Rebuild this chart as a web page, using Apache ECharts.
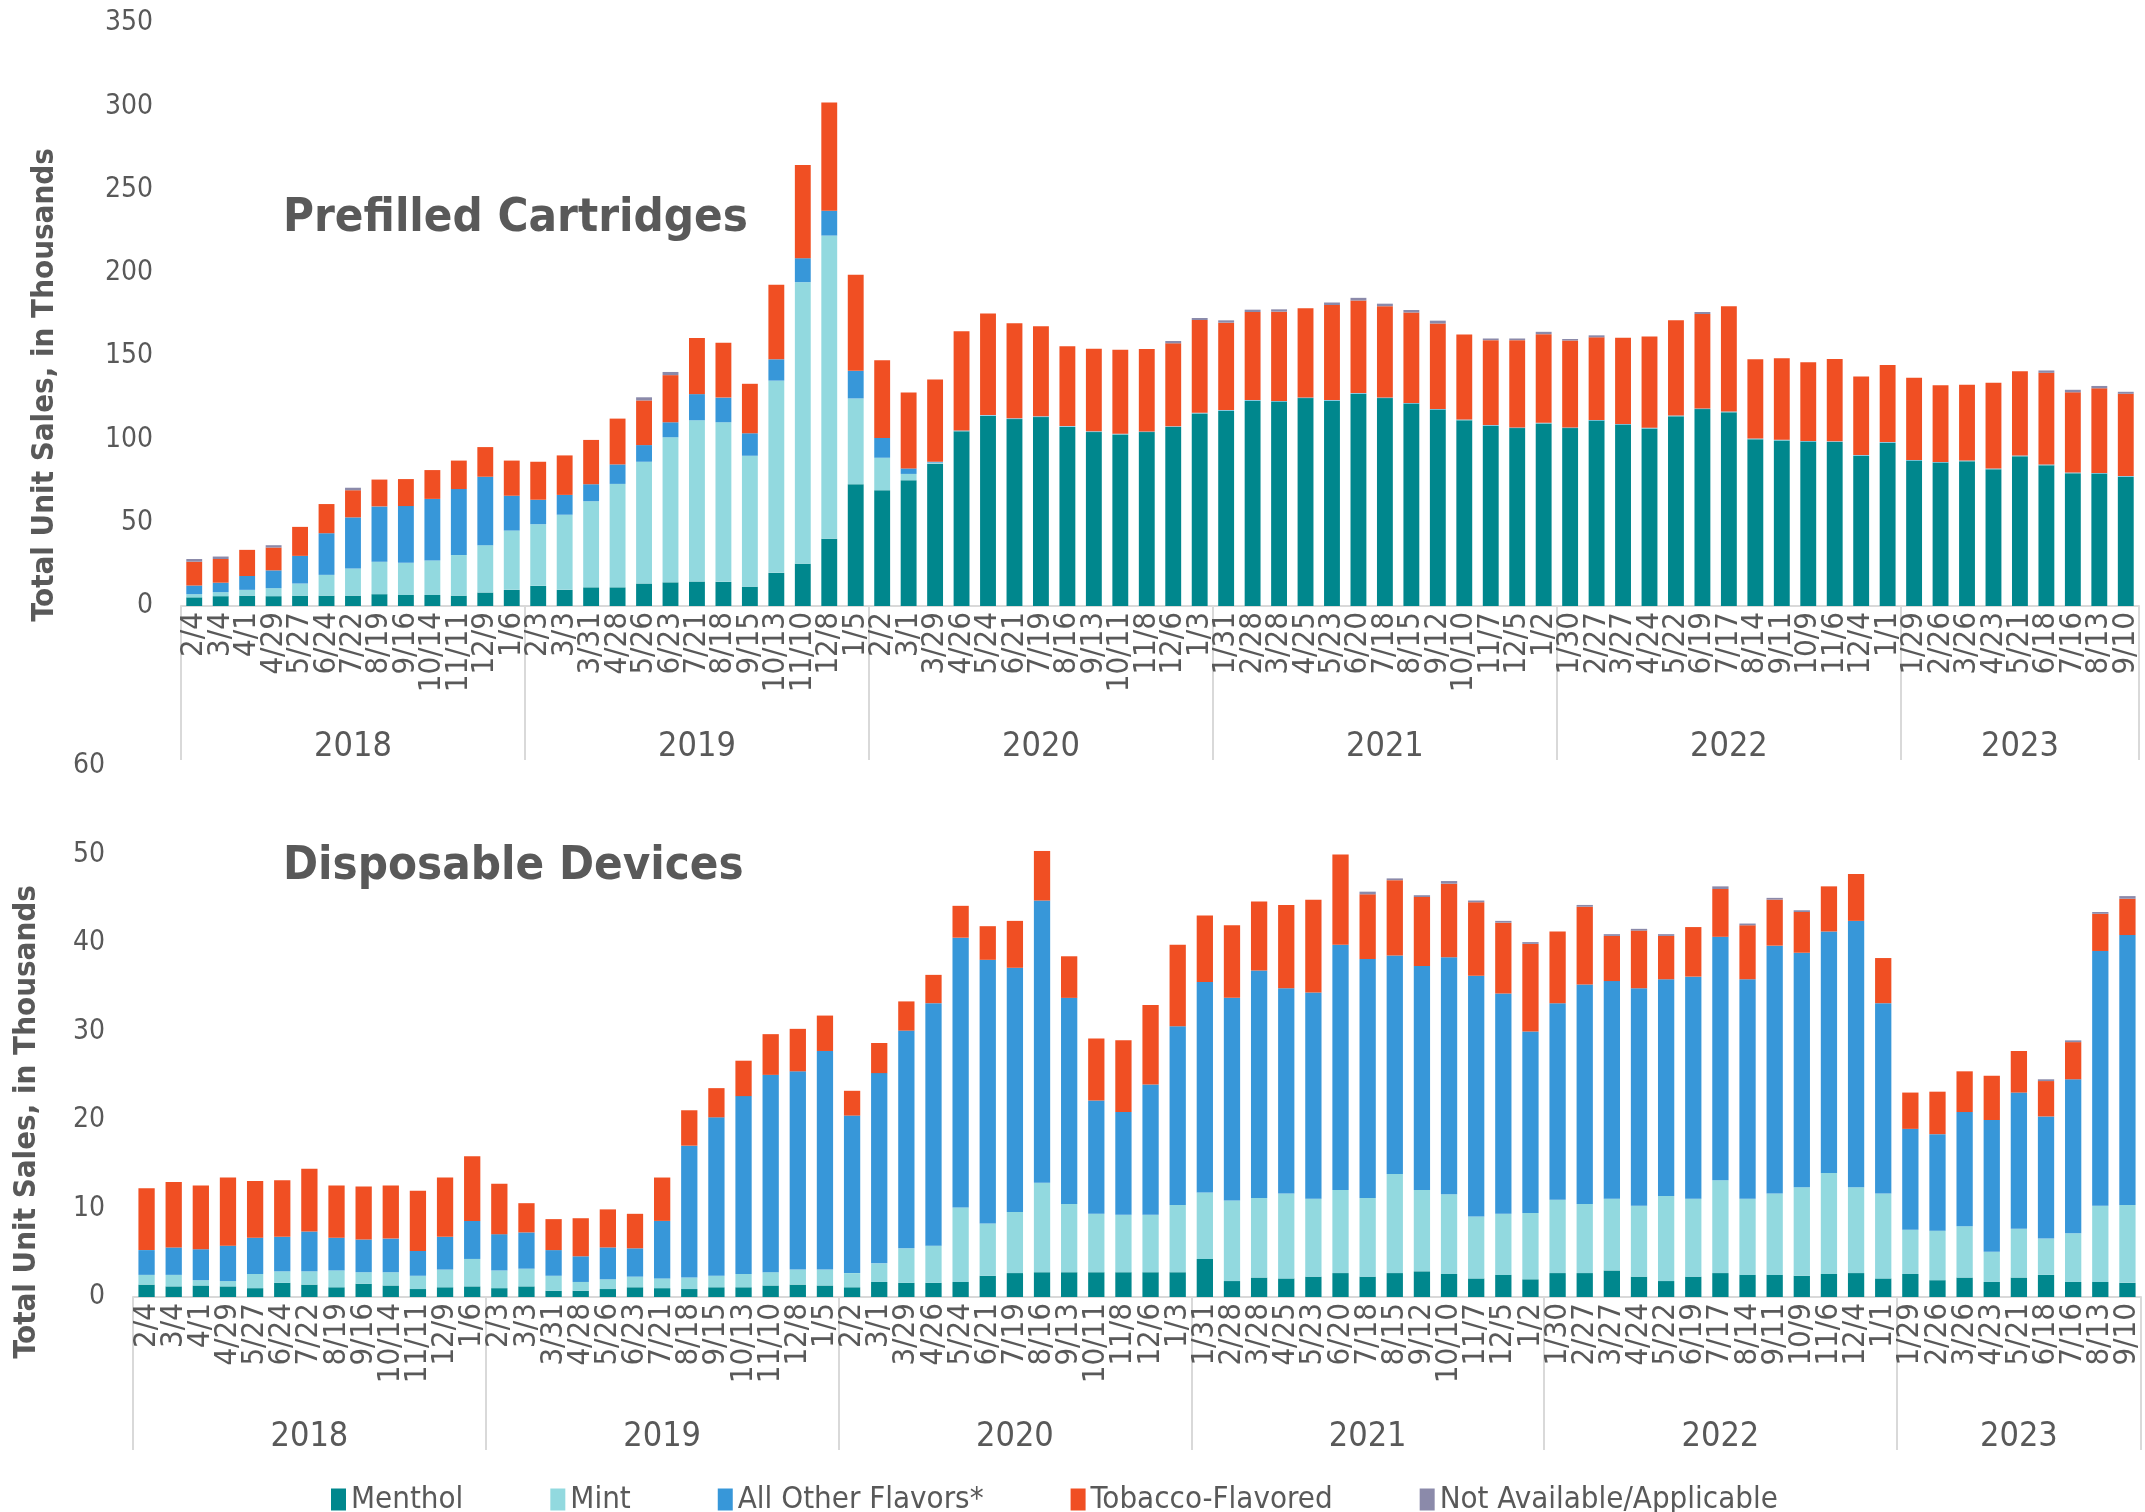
<!DOCTYPE html>
<html>
<head>
<meta charset="utf-8">
<title>Unit sales by flavor</title>
<script src="https://cdn.jsdelivr.net/npm/echarts@6/dist/echarts.min.js"></script>
<style>
  html, body { margin: 0; padding: 0; background: #fff; }
  #chart { width: 2145px; height: 1512px; }
</style>
</head>
<body>
<div id="chart"></div>
<script>
// 4-week periods (end dates), grouped by year
const periods = [
  '2/4', '3/4', '4/1', '4/29', '5/27', '6/24', '7/22', '8/19', '9/16', '10/14', '11/11', '12/9', '1/6',
  '2/3', '3/3', '3/31', '4/28', '5/26', '6/23', '7/21', '8/18', '9/15', '10/13', '11/10', '12/8', '1/5',
  '2/2', '3/1', '3/29', '4/26', '5/24', '6/21', '7/19', '8/16', '9/13', '10/11', '11/8', '12/6', '1/3',
  '1/31', '2/28', '3/28', '4/25', '5/23', '6/20', '7/18', '8/15', '9/12', '10/10', '11/7', '12/5', '1/2',
  '1/30', '2/27', '3/27', '4/24', '5/22', '6/19', '7/17', '8/14', '9/11', '10/9', '11/6', '12/4', '1/1',
  '1/29', '2/26', '3/26', '4/23', '5/21', '6/18', '7/16', '8/13', '9/10'
]
const years = ['2018', '2019', '2020', '2021', '2022', '2023']
const yearCounts = [13, 13, 13, 13, 13, 9]

const flavors = ['Menthol', 'Mint', 'All Other Flavors*', 'Tobacco-Flavored', 'Not Available/Applicable']
const colors = ['#00878d', '#92d9df', '#3797d9', '#f04f23', '#8b8aaa']

// Prefilled cartridges, thousands of units
const cartMenthol = [
  5.2, 5.9, 6.2, 5.9, 6.2, 6.2, 6.2, 7.1, 6.6, 6.6, 6.2, 8.1, 9.7,
  12.1, 9.7, 11.2, 11.2, 13.5, 14.2, 14.7, 14.5, 11.6, 19.9, 25.4, 40.3, 73.1,
  69.5, 75.5, 85.4, 104.9, 114.1, 112.2, 113.4, 107.5, 104.4, 103.0, 104.4, 107.5, 115.6,
  117.2, 123.2, 122.7, 124.8, 123.2, 127.4, 124.8, 121.5, 117.9, 111.5, 108.2, 106.8, 109.6,
  106.8, 111.3, 108.9, 106.6, 113.9, 118.2, 116.3, 100.1, 99.4, 98.7, 98.5, 90.2, 98.0,
  87.3, 86.1, 86.9, 82.1, 89.9, 84.5, 79.7, 79.5, 77.6
]
const cartMint = [
  1.9, 2.4, 3.5, 4.8, 7.3, 12.5, 16.3, 19.5, 19.3, 20.7, 24.4, 28.4, 35.6,
  37.0, 45.1, 51.7, 62.1, 73.1, 87.1, 96.8, 95.8, 78.6, 115.4, 169.0, 182.1, 51.5,
  19.5, 3.8, 0.7, 0.3, 0.3, 0.3, 0.3, 0.3, 0.3, 0.2, 0.2, 0.2, 0.2,
  0.2, 0.2, 0.2, 0.2, 0.2, 0.2, 0.2, 0.2, 0.2, 0.2, 0.2, 0.2, 0.2,
  0.2, 0.2, 0.2, 0.2, 0.2, 0.2, 0.2, 0.2, 0.2, 0.2, 0.2, 0.2, 0.2,
  0.2, 0.2, 0.2, 0.2, 0.2, 0.2, 0.2, 0.2, 0.2
]
const cartOther = [
  5.2, 5.7, 8.3, 10.7, 16.6, 25.0, 30.7, 33.2, 34.1, 37.0, 39.6, 41.1, 20.9,
  14.7, 11.9, 10.2, 11.7, 10.0, 9.0, 15.7, 14.8, 13.5, 12.8, 14.4, 14.9, 16.6,
  11.9, 3.3, 0.5, 0.2, 0.2, 0.2, 0.2, 0.2, 0.2, 0.2, 0.2, 0.2, 0.2,
  0.2, 0.2, 0.2, 0.2, 0.2, 0.2, 0.2, 0.2, 0.2, 0.2, 0.2, 0.2, 0.2,
  0.2, 0.2, 0.2, 0.2, 0.2, 0.2, 0.2, 0.2, 0.2, 0.2, 0.2, 0.2, 0.2,
  0.2, 0.2, 0.2, 0.2, 0.2, 0.2, 0.2, 0.2, 0.2
]
const cartTobacco = [
  14.3, 14.2, 15.7, 13.7, 17.4, 17.5, 16.3, 16.1, 16.2, 17.3, 17.1, 17.8, 21.1,
  22.8, 23.7, 26.6, 27.5, 26.8, 28.3, 33.7, 32.9, 29.7, 44.8, 56.0, 65.0, 57.7,
  46.7, 45.5, 49.4, 59.5, 61.0, 57.0, 54.0, 48.0, 49.5, 50.5, 49.5, 49.8, 55.7,
  52.5, 52.9, 53.6, 53.6, 57.1, 55.6, 54.8, 54.3, 51.3, 51.1, 51.0, 52.4, 53.2,
  52.2, 49.6, 51.8, 54.8, 57.2, 56.7, 63.2, 47.6, 49.0, 47.3, 49.4, 47.2, 46.3,
  49.4, 46.1, 45.6, 51.5, 50.6, 55.1, 48.2, 50.8, 49.4
]
const cartNA = [
  1.6, 1.5, 0, 1.4, 0, 0, 1.5, 0, 0, 0, 0, 0, 0,
  0, 0, 0, 0, 1.9, 1.9, 0, 0, 0, 0, 0, 0, 0,
  0, 0, 0, 0, 0, 0, 0, 0, 0, 0, 0, 1.4, 1.2,
  1.4, 1.4, 1.4, 0, 1.5, 1.6, 1.5, 1.5, 1.7, 0, 1.0, 1.0, 1.4,
  0.9, 1.2, 0, 0, 0, 1.2, 0, 0, 0, 0, 0, 0, 0,
  0, 0, 0, 0, 0, 1.4, 1.5, 1.4, 1.2
]

// Disposable devices, thousands of units
const dispMenthol = [
  1.4, 1.2, 1.3, 1.2, 1.0, 1.6, 1.4, 1.1, 1.5, 1.3, 0.9, 1.1, 1.2,
  1.0, 1.2, 0.7, 0.7, 0.9, 1.1, 1.0, 0.9, 1.1, 1.1, 1.3, 1.4, 1.3,
  1.1, 1.7, 1.6, 1.6, 1.7, 2.4, 2.7, 2.8, 2.8, 2.8, 2.8, 2.8, 2.8,
  4.3, 1.8, 2.2, 2.1, 2.3, 2.7, 2.3, 2.7, 2.9, 2.6, 2.1, 2.5, 2.0,
  2.7, 2.7, 3.0, 2.3, 1.8, 2.3, 2.7, 2.5, 2.5, 2.4, 2.6, 2.7, 2.1,
  2.6, 1.9, 2.2, 1.7, 2.2, 2.5, 1.7, 1.7, 1.6
]
const dispMint = [
  1.1, 1.3, 0.6, 0.6, 1.6, 1.3, 1.5, 1.9, 1.3, 1.5, 1.5, 2.0, 3.1,
  2.0, 2.0, 1.7, 1.0, 1.1, 1.2, 1.1, 1.3, 1.3, 1.5, 1.5, 1.7, 1.8,
  1.6, 2.1, 3.9, 4.2, 8.4, 5.9, 6.9, 10.1, 7.7, 6.6, 6.5, 6.5, 7.6,
  7.5, 9.1, 9.0, 9.6, 8.8, 9.4, 8.9, 11.2, 9.2, 9.0, 7.0, 6.9, 7.5,
  8.3, 7.8, 8.1, 8.0, 9.6, 8.8, 10.5, 8.6, 9.2, 10.0, 11.4, 9.7, 9.6,
  5.0, 5.6, 5.8, 3.4, 5.5, 4.1, 5.5, 8.6, 8.8
]
const dispOther = [
  2.8, 3.1, 3.5, 4.0, 4.1, 3.9, 4.5, 3.7, 3.7, 3.8, 2.8, 3.7, 4.3,
  4.1, 4.1, 2.9, 2.9, 3.6, 3.2, 6.5, 14.9, 17.9, 20.1, 22.3, 22.4, 24.7,
  17.8, 21.5, 24.6, 27.4, 30.5, 29.8, 27.6, 31.9, 23.3, 12.8, 11.6, 14.7, 20.2,
  23.8, 22.9, 25.7, 23.2, 23.3, 27.7, 27.0, 24.7, 25.3, 26.8, 27.2, 24.9, 20.5,
  22.2, 24.8, 24.6, 24.6, 24.5, 25.1, 27.5, 24.8, 28.0, 26.5, 27.3, 30.1, 21.5,
  11.4, 10.9, 12.9, 14.9, 15.4, 13.8, 17.4, 28.8, 30.5
]
const dispTobacco = [
  7.0, 7.4, 7.2, 7.7, 6.4, 6.4, 7.1, 5.9, 6.0, 6.0, 6.8, 6.7, 7.3,
  5.7, 3.3, 3.5, 4.3, 4.3, 3.9, 4.9, 4.0, 3.3, 4.0, 4.6, 4.8, 4.0,
  2.8, 3.4, 3.3, 3.2, 3.6, 3.8, 5.3, 5.6, 4.7, 7.0, 8.1, 9.0, 9.2,
  7.5, 8.2, 7.8, 9.4, 10.5, 10.2, 7.3, 8.5, 7.8, 8.3, 8.3, 8.0, 9.9,
  8.1, 8.8, 5.1, 6.5, 4.9, 5.6, 5.4, 6.1, 5.2, 4.6, 5.1, 5.3, 5.1,
  4.1, 4.8, 4.6, 5.0, 4.7, 4.0, 4.2, 4.2, 4.1
]
const dispNA = [
  0, 0, 0, 0, 0, 0, 0, 0, 0, 0, 0, 0, 0,
  0, 0, 0, 0, 0, 0, 0, 0, 0, 0, 0, 0, 0,
  0, 0, 0, 0, 0, 0, 0, 0, 0, 0, 0, 0, 0,
  0, 0, 0, 0, 0, 0, 0.3, 0.2, 0.2, 0.3, 0.2, 0.2, 0.2,
  0, 0.2, 0.2, 0.2, 0.2, 0, 0.3, 0.2, 0.2, 0.2, 0, 0, 0,
  0, 0, 0, 0, 0, 0.2, 0.2, 0.2, 0.3
]

const NARROW = "'Liberation Sans Narrow', 'DejaVu Sans Condensed', sans-serif"
const BOLD = "'DejaVu Sans Condensed', 'DejaVu Sans', sans-serif"
const GREY = '#595959'

// year label sits on the middle period of each group, separators at group starts
const yearLabels = []
const groupStarts = []
years.forEach((y, k) => {
  groupStarts.push(yearLabels.length)
  for (let i = 0; i < yearCounts[k]; i++) {
    yearLabels.push(i === Math.floor(yearCounts[k] / 2) ? y : '')
  }
})

function dateAxis(gridIndex) {
  return {
    type: 'category',
    gridIndex: gridIndex,
    data: periods,
    axisLine: { lineStyle: { color: '#d9d9d9', width: 2 } },
    axisTick: { show: false },
    axisLabel: {
      interval: 0,
      rotate: 90,
      margin: 6,
      color: GREY,
      fontFamily: NARROW,
      fontSize: 31
    }
  }
}

function yearAxis(gridIndex, tickLen) {
  return {
    type: 'category',
    gridIndex: gridIndex,
    position: 'bottom',
    data: yearLabels,
    axisLine: { show: false },
    axisTick: {
      show: true,
      length: tickLen,
      interval: function(idx) { return groupStarts.indexOf(idx) >= 0 },
      lineStyle: { color: '#d9d9d9', width: 2 }
    },
    axisLabel: {
      interval: 0,
      margin: tickLen - 30,
      color: GREY,
      fontFamily: NARROW,
      fontSize: 34
    }
  }
}

function valueAxis(gridIndex, max, step) {
  return {
    type: 'value',
    gridIndex: gridIndex,
    min: 0,
    max: max,
    interval: step,
    splitLine: { show: false },
    axisLine: { show: false },
    axisTick: { show: false },
    axisLabel: { color: GREY, fontFamily: BOLD, fontWeight: 'normal', fontSize: 28, margin: 28 }
  }
}

const cartSets = [cartMenthol, cartMint, cartOther, cartTobacco, cartNA]
const dispSets = [dispMenthol, dispMint, dispOther, dispTobacco, dispNA]

const series = []
cartSets.forEach((vals, i) => {
  series.push({
    name: flavors[i], type: 'bar', stack: 'cart',
    xAxisIndex: 0, yAxisIndex: 0,
    barCategoryGap: '40%',
    itemStyle: { color: colors[i] },
    data: vals
  })
})
dispSets.forEach((vals, i) => {
  series.push({
    name: flavors[i], type: 'bar', stack: 'disp',
    xAxisIndex: 2, yAxisIndex: 1,
    barCategoryGap: '40%',
    itemStyle: { color: colors[i] },
    data: vals
  })
})

const chart = echarts.init(document.getElementById('chart'))
chart.setOption({
  animation: false,
  color: colors,
  grid: [
    { left: 181, top: 23, width: 1958, height: 583 },
    { left: 133, top: 766, width: 2008, height: 531 }
  ],
  xAxis: [dateAxis(0), yearAxis(0, 154), dateAxis(1), yearAxis(1, 153)],
  yAxis: [valueAxis(0, 350, 50), valueAxis(1, 60, 10)],
  legend: {
    data: flavors,
    left: 326,
    top: 1479,
    icon: 'rect',
    itemWidth: 15,
    itemHeight: 22,
    itemGap: 87,
    textStyle: { color: GREY, fontFamily: NARROW, fontSize: 31 }
  },
  graphic: [
    {
      type: 'text', x: 283, y: 219,
      style: { text: 'Prefilled Cartridges', fill: GREY, font: 'bold 47px ' + BOLD, verticalAlign: 'middle', textVerticalAlign: 'middle' }
    },
    {
      type: 'text', x: 283, y: 867,
      style: { text: 'Disposable Devices', fill: GREY, font: 'bold 47px ' + BOLD, verticalAlign: 'middle', textVerticalAlign: 'middle' }
    },
    {
      type: 'text', x: 45, y: 385, rotation: Math.PI / 2,
      style: { text: 'Total Unit Sales, in Thousands', fill: GREY, font: 'bold 31px ' + BOLD, align: 'center', textAlign: 'center', verticalAlign: 'middle', textVerticalAlign: 'middle' }
    },
    {
      type: 'text', x: 27, y: 1122, rotation: Math.PI / 2,
      style: { text: 'Total Unit Sales, in Thousands', fill: GREY, font: 'bold 31px ' + BOLD, align: 'center', textAlign: 'center', verticalAlign: 'middle', textVerticalAlign: 'middle' }
    }
  ],
  series: series
})
</script>
</body>
</html>
